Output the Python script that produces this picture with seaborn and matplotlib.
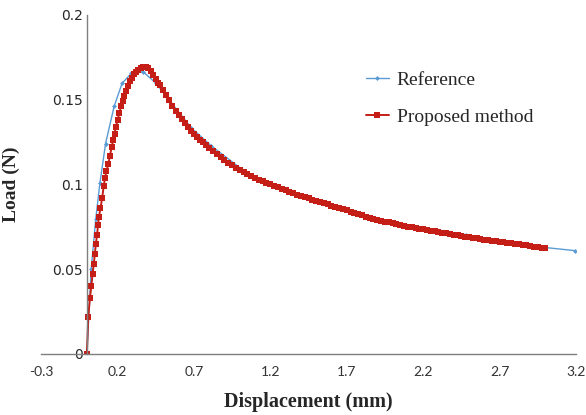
import matplotlib
matplotlib.use("Agg")
import matplotlib.pyplot as plt
import seaborn as sns
import pandas as pd

# Reference curve (blue)
ref_disp = [0, 0.028, 0.058, 0.085, 0.122, 0.178, 0.23, 0.29, 0.368, 0.453, 0.684, 0.815,
            1.05, 1.3, 1.55, 1.8, 2.05, 2.31, 2.48, 2.75, 3.0, 3.19]
ref_load = [0, 0.05, 0.0796, 0.1006, 0.124, 0.146, 0.1596, 0.1655, 0.1665, 0.1596, 0.1333, 0.1227,
            0.1065, 0.0965, 0.0893, 0.0817, 0.0762, 0.0728, 0.0704, 0.066, 0.0628, 0.061]

# Proposed method (red)
prop_disp = [0.000, 0.009, 0.020, 0.029, 0.037, 0.045, 0.052, 0.059, 0.066, 0.073, 0.079, 0.089,
             0.100, 0.110, 0.119, 0.128, 0.140, 0.151, 0.162, 0.172, 0.181, 0.190, 0.201, 0.212,
             0.223, 0.234, 0.245, 0.256, 0.269, 0.282, 0.295, 0.308, 0.322, 0.336, 0.352, 0.369,
             0.385, 0.400, 0.417, 0.434, 0.450, 0.465, 0.480, 0.500, 0.520, 0.540, 0.560, 0.580,
             0.600, 0.620, 0.640, 0.660, 0.680, 0.700, 0.720, 0.740, 0.760, 0.780, 0.800, 0.825,
             0.850, 0.875, 0.900, 0.925, 0.950, 0.975, 1.000, 1.025, 1.050, 1.075, 1.100, 1.125,
             1.150, 1.175, 1.200, 1.225, 1.250, 1.275, 1.300, 1.325, 1.350, 1.375, 1.400, 1.425,
             1.450, 1.475, 1.500, 1.525, 1.550, 1.575, 1.600, 1.625, 1.650, 1.675, 1.700, 1.725,
             1.750, 1.775, 1.800, 1.825, 1.850, 1.875, 1.900, 1.925, 1.950, 1.975, 2.000, 2.025,
             2.050, 2.075, 2.100, 2.125, 2.150, 2.175, 2.200, 2.225, 2.250, 2.275, 2.300, 2.325,
             2.350, 2.375, 2.400, 2.425, 2.450, 2.475, 2.500, 2.525, 2.550, 2.575, 2.600, 2.625,
             2.650, 2.675, 2.700, 2.725, 2.750, 2.775, 2.800, 2.825, 2.850, 2.875, 2.900, 2.925,
             2.950, 2.975, 3.000]
prop_load = [0.000, 0.022, 0.033, 0.040, 0.047, 0.053, 0.059, 0.065, 0.070, 0.076, 0.081, 0.086,
             0.092, 0.099, 0.104, 0.108, 0.112, 0.117, 0.122, 0.126, 0.130, 0.134, 0.138, 0.142,
             0.146, 0.149, 0.152, 0.155, 0.158, 0.161, 0.163, 0.165, 0.1665, 0.1678, 0.1688, 0.1693,
             0.1692, 0.1685, 0.1668, 0.1646, 0.1620, 0.1600, 0.1584, 0.1560, 0.1528, 0.1496, 0.1465, 0.1435,
             0.1408, 0.1385, 0.1362, 0.1339, 0.1317, 0.1296, 0.1280, 0.1264, 0.1248, 0.1233, 0.1218, 0.1200,
             0.1182, 0.1164, 0.1146, 0.1129, 0.1113, 0.1098, 0.1084, 0.1073, 0.1062, 0.1051, 0.1040, 0.1029,
             0.1019, 0.1010, 0.1001, 0.0992, 0.0983, 0.0974, 0.0965, 0.0956, 0.0948, 0.0940, 0.0932, 0.0925,
             0.0918, 0.0911, 0.0903, 0.0896, 0.0889, 0.0882, 0.0875, 0.0868, 0.0861, 0.0854, 0.0847, 0.0840,
             0.0834, 0.0827, 0.0820, 0.0809, 0.0804, 0.0798, 0.0792, 0.0787, 0.0781, 0.0776, 0.0770, 0.0765,
             0.0761, 0.0756, 0.0752, 0.0748, 0.0743, 0.0739, 0.0735, 0.0731, 0.0727, 0.0723, 0.0719, 0.0715,
             0.0711, 0.0707, 0.0703, 0.0699, 0.0696, 0.0692, 0.0689, 0.0685, 0.0682, 0.0678, 0.0675, 0.0672,
             0.0669, 0.0665, 0.0662, 0.0659, 0.0656, 0.0653, 0.0650, 0.0647, 0.0644, 0.0641, 0.0637, 0.0634,
             0.0631, 0.0628, 0.0625]

x_ticks = [-0.3, 0.2, 0.7, 1.2, 1.7, 2.2, 2.7, 3.2]
y_ticks = [0, 0.05, 0.1, 0.15, 0.2]

sns.set_style("white")

fig = plt.figure(figsize=(5.86, 4.15), dpi=100)
ax = fig.add_axes([0.070, 0.147, 0.913, 0.817])

sns.lineplot(x=ref_disp, y=ref_load, ax=ax, color='#5B9BD5', linewidth=1.0, marker='D',
             markersize=2.5, markeredgewidth=0, label='Reference', sort=False)
sns.lineplot(x=prop_disp, y=prop_load, ax=ax, color='#C41E16', linewidth=1.4, marker='s',
             markersize=4.4, markeredgewidth=0, label='Proposed method', sort=False)

ax.set_xlim(-0.3, 3.2)
ax.set_ylim(0, 0.2)
ax.set_xticks(x_ticks)
ax.set_yticks(y_ticks)
ax.set_xticklabels([f'{v:g}' for v in x_ticks], fontfamily='Lato', fontsize=10, color='#333333')
ax.set_yticklabels([f'{v:g}' for v in y_ticks], fontfamily='Lato', fontsize=10, color='#333333')
ax.tick_params(axis='y', length=0, pad=3)
ax.tick_params(axis='x', length=0, pad=9)

# axes cross at the origin like the original Excel chart
ax.spines['left'].set_position(('data', 0))
ax.spines['top'].set_visible(False)
ax.spines['right'].set_visible(False)
for s in ['left', 'bottom']:
    ax.spines[s].set_color('#7f7f7f')
    ax.spines[s].set_linewidth(1.0)

ax.set_xlabel('Displacement (mm)', fontfamily='Liberation Serif', fontweight='bold', fontsize=14.5, labelpad=10)
ax.set_ylabel('Load (N)', fontfamily='Liberation Serif', fontweight='bold', fontsize=14)
ax.yaxis.set_label_coords(20 / 586, 0.5 * (0.147 + 0.964), transform=fig.transFigure)

leg = ax.legend(loc='upper left', bbox_to_anchor=(348 / 586, 1 - 54 / 415), bbox_transform=fig.transFigure,
                frameon=False, handlelength=1.2, handletextpad=0.4, labelspacing=1.0,
                prop={'family': 'Liberation Serif', 'size': 14})

fig.savefig('out.png', dpi=100)
